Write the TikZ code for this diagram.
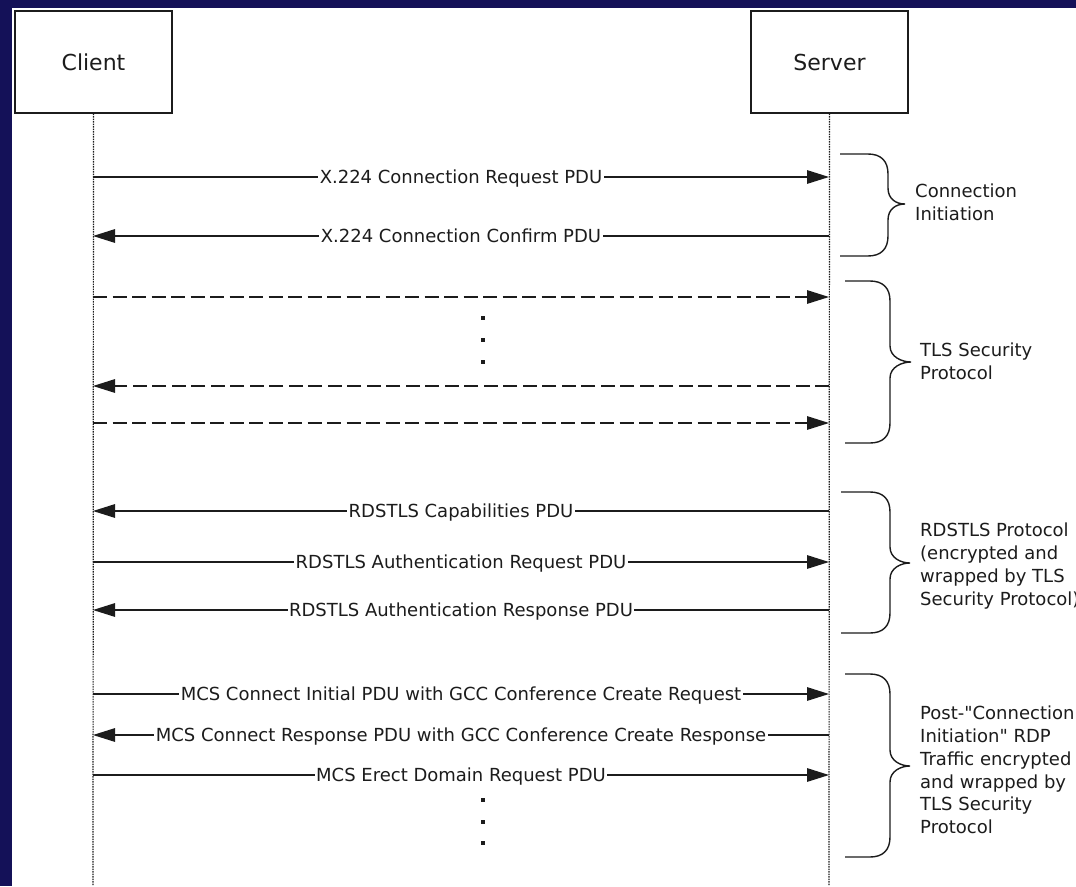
\documentclass[tikz,border=0pt]{standalone}
\usepackage{fontspec}
\setmainfont{DejaVu Sans}[Ligatures=TeXOff]
\usetikzlibrary{arrows.meta}
\definecolor{navy}{RGB}{20,17,88}
\definecolor{ink}{RGB}{28,28,28}
\newcommand\mybrace[6]{%
  \draw[brace] (#1,#4) -- ({#2-20},#4) .. controls ({#2-7},#4) and (#2,{#4+7}) .. (#2,{#4+20})
    -- (#2,{#5-16}) .. controls (#2,{#5-5}) and ({#3-9},#5) .. (#3,#5)
    .. controls ({#3-9},#5) and (#2,{#5+5}) .. (#2,{#5+16})
    -- (#2,{#6-20}) .. controls (#2,{#6-7}) and ({#2-7},#6) .. ({#2-20},#6) -- (#1,#6);}
\begin{document}
\begin{tikzpicture}[x=1pt,y=-1pt,
  msg/.style={draw=ink, line width=1.4pt, -{Triangle[length=22pt,width=13.5pt]}},
  dmsg/.style={msg, dash pattern=on 14pt off 5.5pt},
  lbl/.style={fill=white, text=ink, inner xsep=1.5pt, inner ysep=1pt, anchor=base, yshift=-6.6pt, font=\fontsize{18}{22}\selectfont},
  actor/.style={draw=ink, line width=1.4pt, minimum width=157pt, minimum height=102pt, inner sep=0pt, font=\fontsize{22}{26}\selectfont, text=ink},
  life/.style={draw=ink, line width=1.2pt, dash pattern=on 1.3pt off 1.2pt},
  brace/.style={draw=ink, line width=1.4pt},
  note/.style={anchor=west, align=left, inner sep=0pt, text=ink, font=\fontsize{18}{22.7}\selectfont},
  dotmark/.style={fill=ink, minimum size=4pt, inner sep=0pt}
]
\useasboundingbox (0,0) rectangle (1076,886);
\fill[navy] (0,0) rectangle (1076,886);
\fill[white] (12,8) rectangle (1076,886);

\node[actor] (client) at (93.5,62) {Client};
\node[actor] (server) at (829.5,62) {Server};

\coordinate (cend) at (93,886);
\coordinate (send) at (829,886);
\draw[life] (client.south) -- (cend);
\draw[life] (server.south) -- (send);

% lifeline points
\foreach \n/\y in {a/177,b/236,c/297,d/386,e/423,f/511,g/562,h/610,i/694,j/735,k/775}{
  \coordinate (c\n) at (93,\y);
  \coordinate (s\n) at (829,\y);
}

\draw[msg] (ca) -- node[lbl] {X.224 Connection Request PDU} (sa);
\draw[msg] (sb) -- node[lbl] {X.224 Connection Confirm PDU} (cb);
\draw[dmsg] (cc) -- (sc);
\draw[dmsg] (sd) -- (cd);
\draw[dmsg] (ce) -- (se);
\draw[msg] (sf) -- node[lbl] {RDSTLS Capabilities PDU} (cf);
\draw[msg] (cg) -- node[lbl] {RDSTLS Authentication Request PDU} (sg);
\draw[msg] (sh) -- node[lbl] {RDSTLS Authentication Response PDU} (ch);
\draw[msg] (ci) -- node[lbl] {MCS Connect Initial PDU with GCC Conference Create Request} (si);
\draw[msg] (sj) -- node[lbl] {MCS Connect Response PDU with GCC Conference Create Response} (cj);
\draw[msg] (ck) -- node[lbl] {MCS Erect Domain Request PDU} (sk);

% ellipsis dots
\node[dotmark] (d1) at (483,318) {};
\node[dotmark] (d2) at (483,340) {};
\node[dotmark] (d3) at (483,362) {};
\node[dotmark] (d4) at (483,800) {};
\node[dotmark] (d5) at (483,822) {};
\node[dotmark] (d6) at (483,843) {};

% braces
\mybrace{840}{888}{905}{154}{204}{256}
\mybrace{845}{890}{911}{281}{362}{443}
\mybrace{841}{890}{910}{492}{563}{633}
\mybrace{845}{890}{910}{674}{766}{857}

\node[note] (n1) at (915,202) {Connection\\Initiation};
\node[note] (n2) at (920,361) {TLS Security\\Protocol};
\node[note] (n3) at (920,566) {RDSTLS Protocol\\(encrypted and\\wrapped by TLS\\Security Protocol)};
\node[note] (n4) at (920,770) {Post-"Connection\\Initiation" RDP\\Traffic encrypted\\and wrapped by\\TLS Security\\Protocol};
\end{tikzpicture}
\end{document}
